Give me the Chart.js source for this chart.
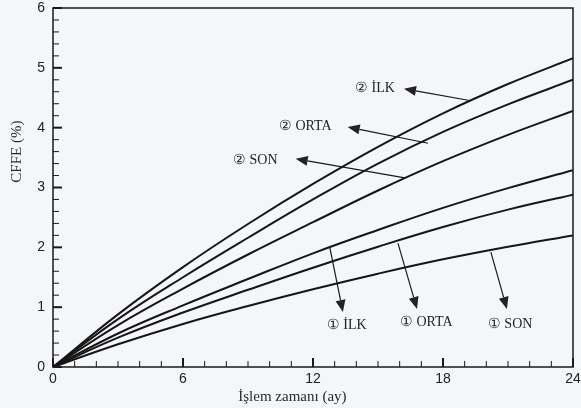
<!DOCTYPE html>
<html lang="tr">
<head>
<meta charset="UTF-8">
<title>CFFE - İşlem zamanı</title>
<script src="https://cdn.jsdelivr.net/npm/chart.js"></script>
<style>
  html, body { margin: 0; padding: 0; background: #f4f6f9; }
  #wrap { width: 581px; height: 408px; position: relative; }
</style>
</head>
<body>
<div id="wrap"><canvas id="cffeChart" width="581" height="408"></canvas></div>
<script>
// işlem zamanı (ay)
const months = [0, 3, 6, 9, 12, 15, 18, 21, 24];

// CFFE (%) değerleri
const ilk2  = [0, 0.88, 1.67, 2.39, 3.06, 3.68, 4.24, 4.73, 5.16];
const orta2 = [0, 0.80, 1.50, 2.16, 2.80, 3.40, 3.93, 4.39, 4.80];
const son2  = [0, 0.70, 1.31, 1.88, 2.42, 2.95, 3.44, 3.88, 4.28];
const ilk1  = [0, 0.56, 1.03, 1.47, 1.90, 2.29, 2.66, 2.99, 3.29];
const orta1 = [0, 0.49, 0.91, 1.29, 1.66, 2.01, 2.34, 2.63, 2.88];
const son1  = [0, 0.38, 0.72, 1.02, 1.30, 1.56, 1.80, 2.01, 2.20];

const xTicks = [0, 6, 12, 18, 24];
const yTicks = [0, 1, 2, 3, 4, 5, 6];

// etiketler: metin, metin konumu, ok başlangıcı (eğri üstü) ve ok ucu (veri birimleri)
const notes = [
  { text: '② İLK',  tx: 13.94, ty: 4.65, from: [19.29, 4.45], to: [16.2, 4.65] },
  { text: '② ORTA', tx: 10.43, ty: 4.03, from: [17.31, 3.74], to: [13.6, 4.01] },
  { text: '② SON',  tx: 8.31,  ty: 3.46, from: [16.24, 3.16], to: [11.2, 3.48] },
  { text: '① İLK',  tx: 12.64, ty: 0.69, from: [12.78, 1.99], to: [13.38, 0.92] },
  { text: '① ORTA', tx: 16.01, ty: 0.74, from: [15.92, 2.07], to: [16.8, 0.97] },
  { text: '① SON',  tx: 20.07, ty: 0.72, from: [20.21, 1.92], to: [20.95, 0.97] }
];

function toPoints(ys) {
  return months.map((m, i) => ({ x: m, y: ys[i] }));
}

const lineStyle = {
  borderColor: '#161616',
  borderWidth: 2,
  pointRadius: 0,
  fill: false,
  tension: 0.4
};

// iç taraftaki tik çizgileri, eksen başlıkları ve oklar
const decorations = {
  id: 'decorations',
  afterDatasetsDraw(chart) {
    const { ctx, chartArea: a, scales: { x, y } } = chart;
    ctx.save();
    ctx.strokeStyle = '#1a1a1a';

    // çerçeve
    ctx.lineWidth = 1.5;
    ctx.strokeRect(a.left, a.top, a.right - a.left, a.bottom - a.top);

    // y tikleri
    for (let v = 0; v <= 30; v++) {
      const py = y.getPixelForValue(v / 5);
      const major = v % 5 === 0;
      ctx.lineWidth = major ? 2 : 1;
      ctx.beginPath();
      ctx.moveTo(a.left, py);
      ctx.lineTo(a.left + (major ? 9 : 6), py);
      ctx.stroke();
    }
    // x tikleri
    for (let v = 0; v <= 24; v++) {
      const px = x.getPixelForValue(v);
      const major = v % 6 === 0;
      ctx.lineWidth = major ? 2 : 1;
      ctx.beginPath();
      ctx.moveTo(px, a.bottom);
      ctx.lineTo(px, a.bottom - (major ? 9 : 6));
      ctx.stroke();
    }

    // etiketler ve oklar
    ctx.fillStyle = '#222';
    ctx.font = '14px "Liberation Serif", "DejaVu Serif", serif';
    ctx.textBaseline = 'middle';
    ctx.textAlign = 'left';
    notes.forEach(n => {
      ctx.fillText(n.text, x.getPixelForValue(n.tx), y.getPixelForValue(n.ty));
      const x0 = x.getPixelForValue(n.from[0]), y0 = y.getPixelForValue(n.from[1]);
      const x1 = x.getPixelForValue(n.to[0]),   y1 = y.getPixelForValue(n.to[1]);
      const ang = Math.atan2(y1 - y0, x1 - x0);
      const head = 12, half = 5;
      const bx = x1 - head * Math.cos(ang), by = y1 - head * Math.sin(ang);
      ctx.lineWidth = 1.2;
      ctx.beginPath();
      ctx.moveTo(x0, y0);
      ctx.lineTo(bx, by);
      ctx.stroke();
      ctx.beginPath();
      ctx.moveTo(x1, y1);
      ctx.lineTo(bx + half * Math.sin(ang), by - half * Math.cos(ang));
      ctx.lineTo(bx - half * Math.sin(ang), by + half * Math.cos(ang));
      ctx.closePath();
      ctx.fill();
    });

    // eksen başlıkları
    ctx.fillStyle = '#2a2a2a';
    ctx.font = '15px "Liberation Serif", "DejaVu Serif", serif';
    ctx.textAlign = 'center';
    ctx.fillText('İşlem zamanı (ay)', x.getPixelForValue(11.05), a.bottom + 30);
    ctx.translate(17, y.getPixelForValue(3.6));
    ctx.rotate(-Math.PI / 2);
    ctx.fillText('CFFE (%)', 0, 0);
    ctx.restore();
  }
};

const ctx = document.getElementById('cffeChart').getContext('2d');
new Chart(ctx, {
  type: 'line',
  data: {
    datasets: [
      { label: '② İLK',  data: toPoints(ilk2),  ...lineStyle },
      { label: '② ORTA', data: toPoints(orta2), ...lineStyle },
      { label: '② SON',  data: toPoints(son2),  ...lineStyle },
      { label: '① İLK',  data: toPoints(ilk1),  ...lineStyle },
      { label: '① ORTA', data: toPoints(orta1), ...lineStyle },
      { label: '① SON',  data: toPoints(son1),  ...lineStyle }
    ]
  },
  options: {
    responsive: false,
    animation: false,
    layout: { padding: { top: 8, right: 8, left: 0, bottom: 0 } },
    plugins: { legend: { display: false }, tooltip: { enabled: false } },
    scales: {
      x: {
        type: 'linear',
        min: 0, max: 24,
        afterBuildTicks: s => { s.ticks = xTicks.map(v => ({ value: v })); },
        afterFit: s => { s.height = 41; s.paddingLeft = 0; s.paddingRight = 0; },
        grid: { display: false, drawTicks: false },
        border: { display: false },
        ticks: {
          padding: 4,
          color: '#222',
          font: { family: '"Liberation Sans", Arial, sans-serif', size: 14 }
        }
      },
      y: {
        min: 0, max: 6,
        afterBuildTicks: s => { s.ticks = yTicks.map(v => ({ value: v })); },
        afterFit: s => { s.width = 53; s.paddingTop = 0; s.paddingBottom = 0; },
        grid: { display: false, drawTicks: false },
        border: { display: false },
        ticks: {
          padding: 8,
          color: '#222',
          font: { family: '"Liberation Sans", Arial, sans-serif', size: 14 }
        }
      }
    }
  },
  plugins: [decorations]
});
</script>
</body>
</html>
